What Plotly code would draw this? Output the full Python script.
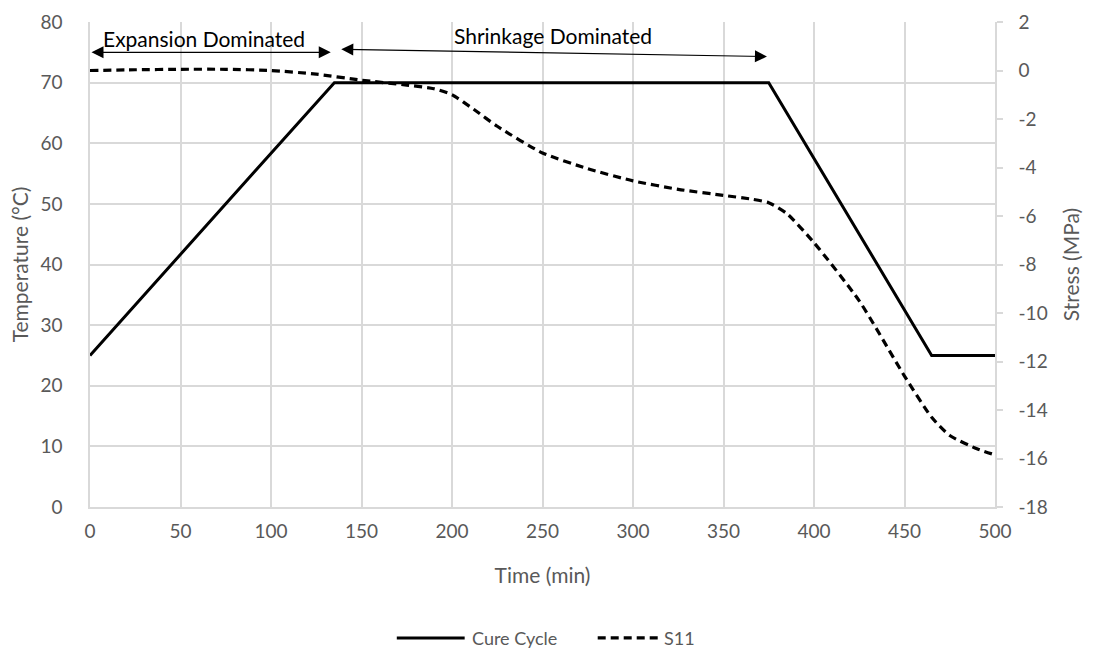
import plotly.graph_objects as go

# Cure cycle temperature profile (min, °C)
cure_time = [0, 135, 375, 465, 500]
cure_temp = [25, 70, 70, 25, 25]

# S11 stress history (min, MPa)
s11_time = [0, 25, 50, 75, 100, 125, 150, 175, 190, 200, 212, 225, 250, 275, 300,
            325, 350, 365, 375, 385, 400, 425, 450, 465, 475, 490, 500]
s11_stress = [0.0, 0.03, 0.05, 0.05, 0.0, -0.15, -0.4, -0.6, -0.75, -1.0, -1.6, -2.3,
              -3.4, -4.05, -4.55, -4.9, -5.15, -5.3, -5.45, -5.9, -7.1, -9.5, -12.6,
              -14.3, -15.05, -15.6, -15.85]

x_ticks = [0, 50, 100, 150, 200, 250, 300, 350, 400, 450, 500]
temp_ticks = [0, 10, 20, 30, 40, 50, 60, 70, 80]
stress_ticks = [2, 0, -2, -4, -6, -8, -10, -12, -14, -16, -18]
stress_tick_text = ["2", "0", "-2", "-4", "-6", "-8", "-10", "-12", "-14", "-16", "-18"]

FONT = "Lato"
GRAY = "#595959"
GRID = "#d9d9d9"

cure_line = dict(color="black", width=3)
s11_line = dict(color="black", width=3.2, dash="8px,5px")

fig = go.Figure()
fig.add_trace(go.Scatter(x=cure_time, y=cure_temp, mode="lines", name="Cure Cycle",
                         line=cure_line))
fig.add_trace(go.Scatter(x=s11_time, y=s11_stress, mode="lines", name="S11", yaxis="y2",
                         line=dict(**s11_line, shape="spline", smoothing=0.6)))

# Region arrows and labels
arrows = [
    dict(x0=0, y0=75.0, x1=133, y1=75.0),
    dict(x0=138, y0=75.5, x1=374, y1=74.3),
]
for a in arrows:
    fig.add_annotation(x=a["x1"], y=a["y1"], ax=a["x0"], ay=a["y0"], xref="x", yref="y",
                       axref="x", ayref="y", text="", showarrow=True, arrowhead=2,
                       arrowside="end+start", arrowsize=2.0, arrowwidth=1.2,
                       arrowcolor="black")
fig.add_annotation(x=63, y=77.2, xref="x", yref="y", text="Expansion Dominated",
                   showarrow=False, font=dict(family=FONT, size=21, color="black"))
fig.add_annotation(x=256, y=77.7, xref="x", yref="y", text="Shrinkage Dominated",
                   showarrow=False, font=dict(family=FONT, size=21, color="black"))

# Legend row below the x-axis title (long line samples)
legend_items = [
    dict(label="Cure Cycle", line=cure_line, x0=0.339, x1=0.414, tx=0.420),
    dict(label="S11", line=s11_line, x0=0.561, x1=0.630, tx=0.632),
]
LEG_Y = -0.27
for item in legend_items:
    fig.add_shape(type="line", xref="paper", yref="paper", x0=item["x0"], x1=item["x1"],
                  y0=LEG_Y, y1=LEG_Y, line=item["line"])
    fig.add_annotation(x=item["tx"], y=LEG_Y, xref="paper", yref="paper", text=item["label"],
                       showarrow=False, xanchor="left", yanchor="middle",
                       font=dict(family=FONT, size=18, color=GRAY))

fig.update_layout(
    width=1093, height=655,
    margin=dict(l=90, r=98, t=22, b=148, autoexpand=False),
    paper_bgcolor="white", plot_bgcolor="white",
    font=dict(family=FONT, size=19, color=GRAY),
    showlegend=False,
    xaxis=dict(range=[0, 500], tickvals=x_ticks, showgrid=True, gridcolor=GRID, gridwidth=1.5,
               showline=True, linecolor=GRID, linewidth=1.5, zeroline=False, ticks="",
               ticklabelstandoff=6, automargin=False,
               title=dict(text="Time (min)", font=dict(size=21, color=GRAY), standoff=28)),
    yaxis=dict(range=[0, 80], tickvals=temp_ticks, showgrid=True, gridcolor=GRID, gridwidth=1.5,
               showline=True, linecolor=GRID, linewidth=1.5, zeroline=False, ticks="",
               ticklabelstandoff=22, automargin=False,
               title=dict(text="Temperature (°C)", font=dict(size=21, color=GRAY), standoff=6)),
    yaxis2=dict(range=[-18, 2], tickvals=stress_ticks, ticktext=stress_tick_text,
                overlaying="y", side="right", showgrid=False,
                showline=True, linecolor=GRID, linewidth=1.5, zeroline=False,
                ticks="outside", ticklen=6, tickcolor=GRID, tickwidth=1.5,
                ticklabelstandoff=12, automargin=False,
                title=dict(text="Stress (MPa)", font=dict(size=21, color=GRAY), standoff=18)),
)

fig.write_html("out.html")
